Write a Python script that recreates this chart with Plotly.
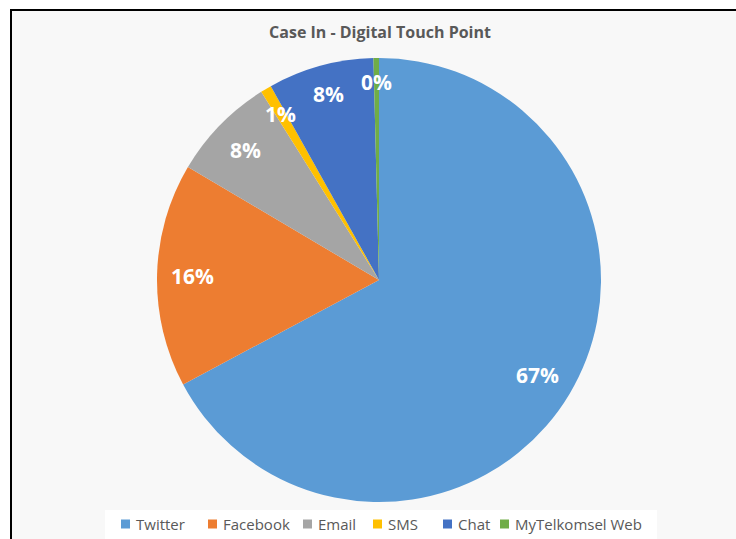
import numpy as np
import plotly.graph_objects as go

categories = ["Twitter", "Facebook", "Email", "SMS", "Chat", "MyTelkomsel Web"]
values = [67.2, 16.3, 7.6, 0.8, 7.7, 0.4]
colors = ["#5B9BD5", "#ED7D31", "#A5A5A5", "#FFC000", "#4472C4", "#70AD47"]

W, H = 736, 539
cx, cy, R = 379, 280, 222

fig = go.Figure()
fig.add_trace(go.Pie(
    labels=categories, values=values, sort=False, direction="clockwise", rotation=0,
    marker=dict(colors=colors, line=dict(width=0)),
    textinfo="none", hoverinfo="label+percent",
    domain=dict(x=[(cx - R) / W, (cx + R) / W], y=[1 - (cy + R) / H, 1 - (cy - R) / H]),
    showlegend=False,
))

# data labels placed at the middle angle of each slice
vals = np.array(values, dtype=float)
frac = vals / vals.sum()
cum = np.concatenate([[0], np.cumsum(frac)])
mid = (cum[:-1] + cum[1:]) / 2 * 2 * np.pi
radf = [0.83, 0.84, 0.84, 0.87, 0.87, 0.89]
annotations = []
for i, (m, f) in enumerate(zip(mid, frac)):
    px = cx + R * radf[i] * np.sin(m)
    py = cy - R * radf[i] * np.cos(m)
    annotations.append(dict(
        x=px / W, y=1 - py / H, xref="paper", yref="paper",
        text=f"{round(f * 100):.0f}%", showarrow=False,
        font=dict(family="Open Sans", size=21, color="white", weight="bold"),
        xanchor="center", yanchor="middle",
    ))

# legend (Excel style: small square + label, compact spacing)
legend_x = [121, 208, 303, 373, 443, 500]   # layout: left edge of each legend square (px)
legend_y = 524
shapes = [
    dict(type="rect", xref="paper", yref="paper", x0=11 / W, x1=1.02, y0=-0.02, y1=1 - 10 / H,
         fillcolor="#f8f8f8", line=dict(color="black", width=2), layer="below"),
    dict(type="rect", xref="paper", yref="paper", x0=105 / W, x1=657 / W, y0=-0.01, y1=1 - 510 / H,
         fillcolor="white", line=dict(width=0), layer="below"),
]
for lx, cat, col in zip(legend_x, categories, colors):
    shapes.append(dict(type="rect", xref="paper", yref="paper",
                       x0=lx / W, x1=(lx + 9) / W,
                       y0=1 - (legend_y + 4.5) / H, y1=1 - (legend_y - 4.5) / H,
                       fillcolor=col, line=dict(width=0)))
    annotations.append(dict(
        x=(lx + 13) / W, y=1 - legend_y / H, xref="paper", yref="paper",
        text=cat, showarrow=False, xanchor="left", yanchor="middle",
        font=dict(family="Open Sans", size=15, color="#595959"),
    ))

fig.update_layout(
    width=W, height=H,
    margin=dict(l=0, r=0, t=0, b=0),
    paper_bgcolor="white",
    title=dict(text="<b>Case In - Digital Touch Point</b>", x=380 / W, y=1 - 32 / H,
               xanchor="center", yanchor="middle",
               font=dict(family="Open Sans", size=16, color="#595959")),
    showlegend=False,
    shapes=shapes,
    annotations=annotations,
)

fig.write_html("out.html")
